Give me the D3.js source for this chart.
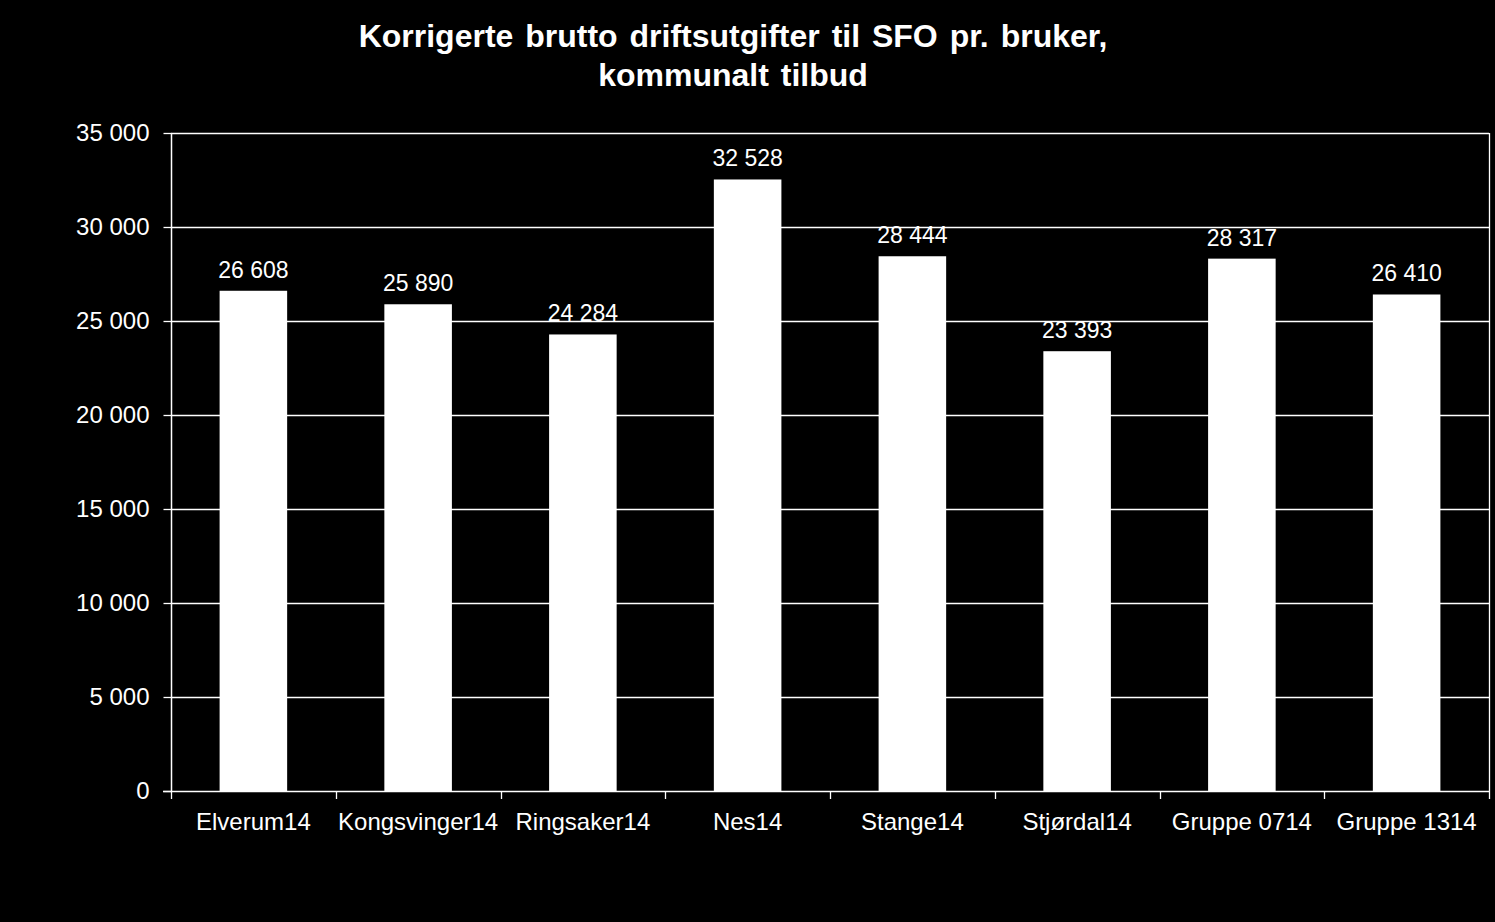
<!DOCTYPE html>
<html><head><meta charset="utf-8">
<script src="https://cdn.jsdelivr.net/npm/d3@7"></script>
<style>body{margin:0;background:#000;}svg{display:block;}</style>
</head><body>
<svg id="c" width="1495" height="922"></svg>
<script>
const categories = ["Elverum14","Kongsvinger14","Ringsaker14","Nes14","Stange14","Stjørdal14","Gruppe 0714","Gruppe 1314"];
const values = [26608,25890,24284,32528,28444,23393,28317,26410];
const yTicks = [0,5000,10000,15000,20000,25000,30000,35000];
const titleLines = ["Korrigerte brutto driftsutgifter til SFO pr. bruker,","kommunalt tilbud"];

const svg = d3.select("#c");
svg.append("rect").attr("width",1495).attr("height",922).attr("fill","#000");
const m = {left:171, right:1489, top:133, bottom:791};
const fmt = v => d3.format(",")(v).replace(/,/g," ");
const x = d3.scaleBand().domain(categories).range([m.left,m.right]).paddingInner(0.59).paddingOuter(0.295);
const y = d3.scaleLinear().domain([0,35000]).range([m.bottom,m.top]);
const font = "'Liberation Sans', Arial, sans-serif";

// gridlines
svg.append("g").selectAll("line").data(yTicks.filter(d=>d>0)).join("line")
  .attr("x1",m.left).attr("x2",m.right).attr("y1",d=>y(d)+0.5).attr("y2",d=>y(d)+0.5)
  .attr("stroke","#fff").attr("stroke-width",1.3);
// right border
svg.append("line").attr("x1",m.right+0.5).attr("x2",m.right+0.5).attr("y1",m.top).attr("y2",m.bottom).attr("stroke","#fff").attr("stroke-width",1.3);

// bars
svg.append("g").selectAll("rect").data(values).join("rect")
  .attr("x",(d,i)=>x(categories[i])).attr("width",x.bandwidth())
  .attr("y",d=>y(d)).attr("height",d=>y(0)-y(d)).attr("fill","#fff");

// data labels
svg.append("g").selectAll("text").data(values).join("text")
  .attr("x",(d,i)=>x(categories[i])+x.bandwidth()/2).attr("y",d=>y(d)-13)
  .attr("text-anchor","middle").attr("fill","#fff").attr("font-family",font).attr("font-size",23)
  .text(fmt);

// y axis
const ya = svg.append("g").attr("transform",`translate(${m.left+0.5},0)`)
  .call(d3.axisLeft(y).tickValues(yTicks).tickFormat(fmt).tickSize(8).tickPadding(14));
ya.select(".domain").attr("stroke","#fff").attr("stroke-width",1.5).attr("d",`M0,${m.top}V${m.bottom}`);
ya.selectAll(".tick line").attr("stroke","#fff").attr("stroke-width",1.3);
ya.selectAll(".tick text").attr("fill","#fff").attr("font-family",font).attr("font-size",24);

// x axis
const xa = svg.append("g").attr("transform",`translate(0,${m.bottom+0.5})`)
  .call(d3.axisBottom(x).tickSize(0).tickPadding(21));
xa.select(".domain").attr("stroke","#fff").attr("stroke-width",1.5).attr("d",`M${m.left-8},0H${m.right}`);
xa.selectAll(".tick text").attr("fill","#fff").attr("font-family",font).attr("font-size",24);
const step = x.step();
const bounds = d3.range(categories.length+1).map(i=>m.left+i*step);
svg.append("g").selectAll("line").data(bounds).join("line")
  .attr("x1",d=>Math.round(d)+0.5).attr("x2",d=>Math.round(d)+0.5)
  .attr("y1",m.bottom).attr("y2",m.bottom+8).attr("stroke","#fff").attr("stroke-width",1.3);

// title
svg.append("g").selectAll("text").data(titleLines).join("text")
  .attr("x",733).attr("y",(d,i)=>47+i*39).attr("text-anchor","middle")
  .attr("fill","#fff").attr("font-family",font).attr("font-weight","bold").attr("font-size",32)
  .attr("word-spacing",3)
  .text(d=>d);
</script>
</body></html>
